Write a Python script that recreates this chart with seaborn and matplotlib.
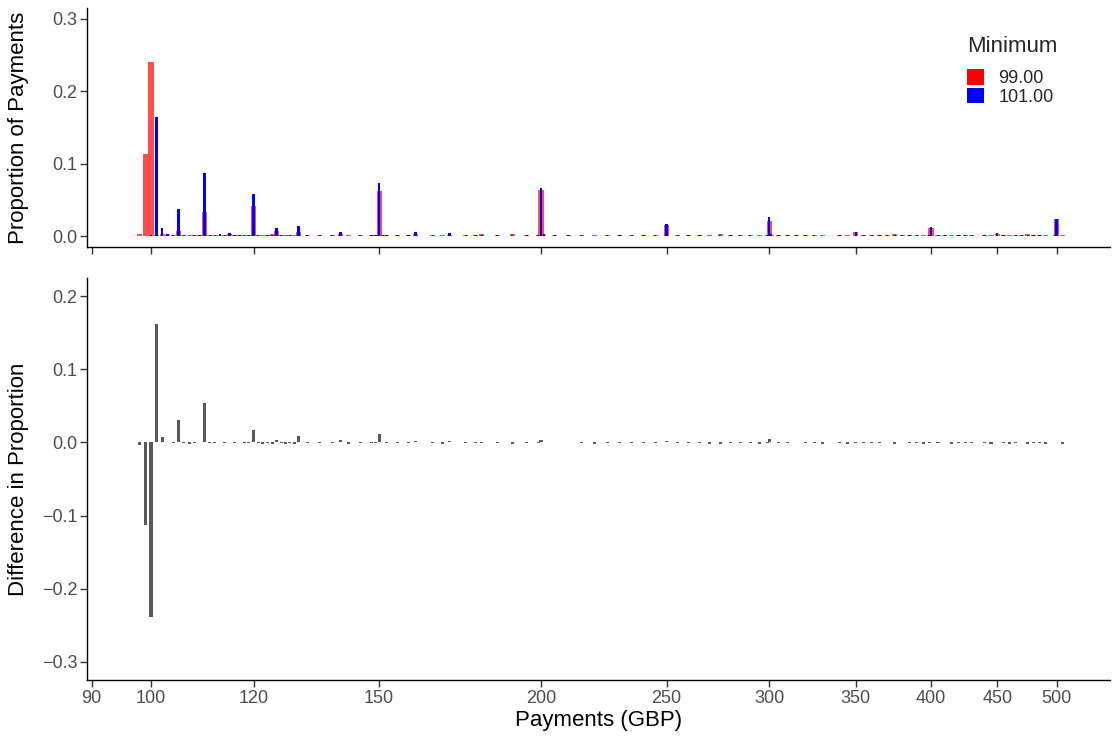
import numpy as np
import pandas as pd
import matplotlib
matplotlib.use("Agg")
import matplotlib.pyplot as plt
import seaborn as sns
from matplotlib.patches import Patch
from matplotlib.ticker import FixedLocator, NullLocator

# ---------------- data ----------------
payments = [98, 99, 100, 101, 102, 103, 104, 105, 106, 107, 108, 109, 110, 111, 112, 113,
            114, 115, 116, 117, 118, 119, 120, 121, 122, 123, 124, 125, 126, 127, 128, 129,
            130, 132, 135, 138, 140, 142, 145, 148, 149, 150, 151, 152, 155, 158, 160, 165,
            168, 170, 175, 178, 180, 185, 190, 195, 199, 200, 201, 205, 210, 215, 220, 225,
            230, 235, 240, 245, 250, 255, 260, 265, 270, 275, 280, 285, 290, 295, 299, 300,
            301, 305, 310, 315, 320, 325, 330, 340, 345, 350, 355, 360, 365, 370, 375, 380,
            385, 390, 395, 399, 400, 405, 410, 415, 420, 425, 430, 440, 445, 450, 455, 460,
            465, 470, 475, 480, 485, 490, 499, 500, 505]

prop_min99 = [0.003, 0.113, 0.240, 0.002, 0.003, 0.002, 0.002, 0.007, 0.002, 0.002, 0.002, 0.002, 0.033, 0.002, 0.002, 0.002,
              0.002, 0.003, 0.002, 0.001, 0.002, 0.002, 0.041, 0.002, 0.002, 0.002, 0.003, 0.007, 0.002, 0.002, 0.002, 0.002,
              0.005, 0.002, 0.002, 0.002, 0.003, 0.002, 0.002, 0.002, 0.002, 0.062, 0.002, 0.002, 0.002, 0.002, 0.003, 0.002,
              0.002, 0.002, 0.002, 0.002, 0.003, 0.002, 0.003, 0.002, 0.002, 0.063, 0.002, 0.001, 0.002, 0.002, 0.002, 0.002,
              0.002, 0.002, 0.002, 0.002, 0.015, 0.002, 0.002, 0.002, 0.002, 0.003, 0.002, 0.002, 0.002, 0.002, 0.002, 0.021,
              0.002, 0.002, 0.002, 0.001, 0.002, 0.002, 0.002, 0.002, 0.002, 0.006, 0.002, 0.002, 0.002, 0.002, 0.003, 0.002,
              0.002, 0.002, 0.002, 0.002, 0.011, 0.002, 0.002, 0.002, 0.002, 0.002, 0.002, 0.002, 0.002, 0.003, 0.002, 0.002,
              0.002, 0.001, 0.003, 0.002, 0.002, 0.002, 0.001, 0.024, 0.002]

prop_min101 = [0.000, 0.000, 0.001, 0.164, 0.011, 0.003, 0.001, 0.038, 0.001, 0.000, 0.001, 0.002, 0.087, 0.001, 0.001, 0.003,
               0.001, 0.004, 0.001, 0.001, 0.001, 0.001, 0.058, 0.001, 0.000, 0.001, 0.001, 0.011, 0.001, 0.000, 0.001, 0.000,
               0.014, 0.001, 0.001, 0.001, 0.006, 0.000, 0.001, 0.001, 0.001, 0.074, 0.002, 0.001, 0.001, 0.001, 0.005, 0.001,
               0.000, 0.004, 0.001, 0.001, 0.002, 0.001, 0.001, 0.001, 0.001, 0.066, 0.003, 0.001, 0.002, 0.001, 0.000, 0.001,
               0.001, 0.001, 0.001, 0.001, 0.017, 0.001, 0.001, 0.001, 0.000, 0.001, 0.001, 0.001, 0.001, 0.000, 0.001, 0.026,
               0.003, 0.001, 0.001, 0.001, 0.001, 0.001, 0.000, 0.001, 0.000, 0.005, 0.001, 0.001, 0.001, 0.002, 0.001, 0.002,
               0.001, 0.001, 0.000, 0.001, 0.012, 0.001, 0.002, 0.000, 0.001, 0.001, 0.001, 0.001, 0.000, 0.004, 0.001, 0.000,
               0.001, 0.001, 0.001, 0.001, 0.001, 0.000, 0.001, 0.024, 0.000]

legend_labels = ["99.00", "101.00"]
xtick_values = [90, 100, 120, 150, 200, 250, 300, 350, 400, 450, 500]
xtick_labels = ["90", "100", "120", "150", "200", "250", "300", "350", "400", "450", "500"]
ytick_top = [0.0, 0.1, 0.2, 0.3]
ytick_top_labels = ["0.0", "0.1", "0.2", "0.3"]
ytick_bot = [-0.3, -0.2, -0.1, 0.0, 0.1, 0.2]
ytick_bot_labels = ["\u22120.3", "\u22120.2", "\u22120.1", "0.0", "0.1", "0.2"]

df = pd.DataFrame({"payment": payments, "p99": prop_min99, "p101": prop_min101})
df["diff"] = df["p101"] - df["p99"]

# ---------------- style ----------------
sns.set_style("ticks")
plt.rcParams["font.family"] = ["Liberation Sans", "DejaVu Sans"]

fig = plt.figure(figsize=(11.13, 7.37), dpi=100)
ax1 = fig.add_axes([0.0782, 0.6649, 0.9191, 0.3243])
ax2 = fig.add_axes([0.0782, 0.0773, 0.9191, 0.5455])

# widths are expressed in log10 units, relative to seaborn's native width
native = np.min(np.diff(np.log10(np.unique(payments))))
w_red, w_blue, w_gray = 0.0039, 0.0018, 0.0024

common = dict(data=df, x="payment", native_scale=True, log_scale=(True, False), orient="x",
              errorbar=None, saturation=1, linewidth=0)
sns.barplot(y="p99", color="red", alpha=0.7, width=w_red / native, ax=ax1, **common)
sns.barplot(y="p101", color="blue", width=w_blue / native, ax=ax1, **common)
sns.barplot(y="diff", color="#595959", width=w_gray / native, ax=ax2, **common)

tick_col = "#4D4D4D"
for ax in (ax1, ax2):
    ax.set_xscale("log")
    ax.set_xlim(89.25, 549.8)
    ax.xaxis.set_major_locator(FixedLocator(xtick_values))
    ax.xaxis.set_minor_locator(NullLocator())
    for s in ("top", "right"):
        ax.spines[s].set_visible(False)
    for s in ("left", "bottom"):
        ax.spines[s].set_linewidth(1.0)
        ax.spines[s].set_color("black")
    ax.tick_params(axis="both", which="major", length=5, width=1, color="#333333",
                   labelcolor=tick_col, labelsize=13, pad=2)
    ax.set_facecolor("white")

ax1.set_xticklabels([])
ax1.set_xlabel("")
ax2.set_xticklabels(xtick_labels)
ax2.set_xlabel("Payments (GBP)", fontsize=16, color="black", labelpad=2)

ax1.set_ylim(-0.015, 0.315)
ax1.set_yticks(ytick_top)
ax1.set_yticklabels(ytick_top_labels)
ax1.set_ylabel("Proportion of Payments", fontsize=16, color="black")
ax1.yaxis.set_label_coords(-0.0567, 0.5)

ax2.set_ylim(-0.325, 0.225)
ax2.set_yticks(ytick_bot)
ax2.set_yticklabels(ytick_bot_labels)
ax2.set_ylabel("Difference in Proportion", fontsize=16, color="black")
ax2.yaxis.set_label_coords(-0.0567, 0.5)

handles = [Patch(facecolor="red", edgecolor="none", label=legend_labels[0]),
           Patch(facecolor="blue", edgecolor="none", label=legend_labels[1])]
leg = ax1.legend(handles=handles, title="Minimum", loc="upper left",
                 bbox_to_anchor=(967 / 1113, 1 - 36 / 737), bbox_transform=fig.transFigure,
                 frameon=False, fontsize=13, title_fontsize=16, handlelength=0.95,
                 handleheight=0.95, labelspacing=0.02, handletextpad=0.8, borderaxespad=0,
                 borderpad=0, alignment="left")
leg._legend_box.sep = 9

fig.savefig("out.png", dpi=100, facecolor="white")
